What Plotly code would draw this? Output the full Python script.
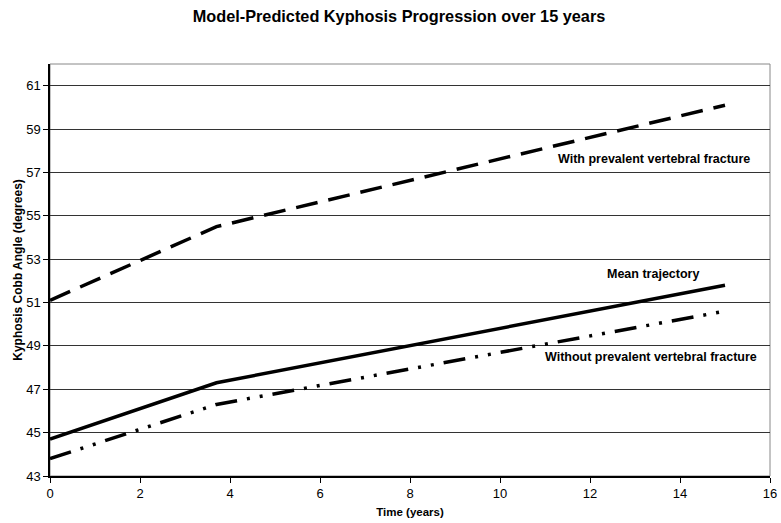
import plotly.graph_objects as go

# Data
time_pts = [0, 3.7, 15]
with_fracture = [51.1, 54.5, 60.1]
mean_traj = [44.7, 47.3, 51.8]
without_fracture = [43.8, 46.3, 50.6]

y_ticks = [43, 45, 47, 49, 51, 53, 55, 57, 59, 61]
x_ticks = [0, 2, 4, 6, 8, 10, 12, 14, 16]

labels = ["With prevalent vertebral fracture", "Mean trajectory", "Without prevalent vertebral fracture"]
label_x = [15.6, 13.4, 15.75]
label_y = [57.6, 52.3, 48.5]

FONT = "Liberation Sans, Arial"

fig = go.Figure()
fig.add_trace(go.Scatter(x=time_pts, y=with_fracture, mode="lines",
                         line=dict(color="black", width=3.5, dash="22px,11px"),
                         name=labels[0], showlegend=False))
fig.add_trace(go.Scatter(x=time_pts, y=mean_traj, mode="lines",
                         line=dict(color="black", width=3.5),
                         name=labels[1], showlegend=False))
fig.add_trace(go.Scatter(x=time_pts, y=without_fracture, mode="lines",
                         line=dict(color="black", width=3.5, dash="22px,10px,3px,10px,3px,10px"),
                         name=labels[2], showlegend=False))

anchors = ["right", "center", "right"]
for t, xx, yy, a in zip(labels, label_x, label_y, anchors):
    fig.add_annotation(x=xx, y=yy, text="<b>%s</b>" % t, showarrow=False,
                       xanchor=a, yanchor="middle",
                       font=dict(family=FONT, size=12.5, color="black"))

fig.update_layout(
    width=781, height=523,
    margin=dict(l=50, r=11, t=64, b=47, autoexpand=False),
    paper_bgcolor="white", plot_bgcolor="white",
    title=dict(text="<b>Model-Predicted Kyphosis Progression over 15 years</b>",
               x=399 / 781, xanchor="center", y=1 - 16 / 523, yanchor="middle",
               font=dict(family=FONT, size=16.3, color="black")),
    font=dict(family=FONT, size=13, color="black"),
)
fig.update_xaxes(range=[0, 16], tickvals=x_ticks, showgrid=False, zeroline=False,
                 showline=True, linecolor="black", linewidth=1.5, mirror=False,
                 ticks="outside", ticklen=5, tickcolor="black", automargin=False,
                 tickfont=dict(size=13),
                 title=dict(text="<b>Time (years)</b>", font=dict(size=11.5), standoff=8))
fig.update_yaxes(range=[43, 62], tickvals=y_ticks, showgrid=True, gridcolor="#333333", gridwidth=1,
                 zeroline=False, showline=True, linecolor="black", linewidth=1.5,
                 ticks="outside", ticklen=5, tickcolor="black", automargin=False,
                 tickfont=dict(size=13),
                 title=dict(text="<b>Kyphosis Cobb Angle (degrees)</b>", font=dict(size=12), standoff=1))
# right and top border of plot area
fig.add_shape(type="rect", xref="paper", yref="paper", x0=0, y0=0, x1=1, y1=1,
              line=dict(color="#888888", width=1), layer="below")

fig.write_html("out.html", config={"displayModeBar": False},
               post_script="document.body.style.margin='0';document.body.style.overflow='hidden';")
